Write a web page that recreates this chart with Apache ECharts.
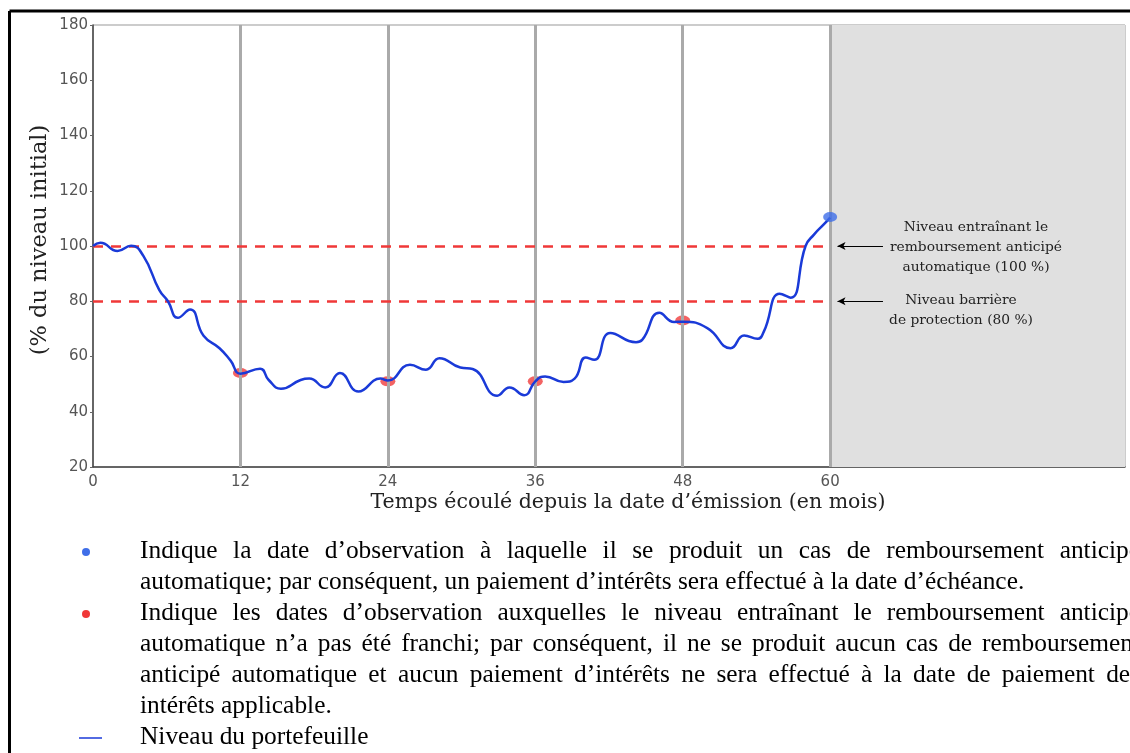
<!DOCTYPE html>
<html>
<head>
<meta charset="utf-8">
<script src="https://cdn.jsdelivr.net/npm/echarts@6/dist/echarts.min.js"></script>
<style>
    html, body { margin: 0; padding: 0; background: #fff; }
    #chart { width: 1130px; height: 753px; }
</style>
</head>
<body>
<div id="chart"></div>
<script>
// months since issue / portfolio level (% of initial)
const months = [0, 0.6, 2.0, 3.1, 4.1, 5.4, 6.1, 6.9, 7.9, 9.0, 10.3, 11.2, 12,
    13.6, 14.3, 15.3, 16.9, 17.6, 18.9, 20.1, 21.6, 23.4, 24,
    25.8, 27.1, 28.2, 29.9, 30.9, 32.9, 33.9, 35.1, 36,
    36.8, 38.3, 39.2, 40.1, 40.8, 42.1, 44.2, 44.7, 46.1, 47.3, 48,
    50.0, 51.9, 53.0, 54.1, 54.6, 55.9, 56.8, 58.0, 58.7, 59.5, 60];
const levels = [100, 101.2, 98.2, 100.1, 96.4, 84, 80, 74, 77, 67.5, 63, 58.5, 53.8,
    55.6, 51.5, 48.3, 51.5, 52, 48.8, 54, 47.3, 52, 51.3,
    57, 55.2, 59.4, 56, 55.5, 45.8, 48.8, 46, 51,
    52.8, 50.8, 52, 59.6, 58.8, 68.5, 65.2, 66, 75.8, 72.5, 72.6,
    70.3, 63, 67.6, 66.4, 69, 82.7, 81.3, 100, 104.2, 107.9, 110.3];

// observation dates
const obsMissed = [12, 24, 36, 48];
const obsMissedLevels = [54, 51, 51, 73];
const obsCalled = [60];
const obsCalledLevels = [110.5];

const autocallLevel = 100;
const barrierLevel = 80;
const maturity = 60;
const axisEnd = 84;

const legendBlue = [
    "Indique la date d’observation à laquelle il se produit un cas de remboursement anticipé",
    "automatique; par conséquent, un paiement d’intérêts sera effectué à la date d’échéance."
];
const legendRed = [
    "Indique les dates d’observation auxquelles le niveau entraînant le remboursement anticipé",
    "automatique n’a pas été franchi; par conséquent, il ne se produit aucun cas de remboursement",
    "anticipé automatique et aucun paiement d’intérêts ne sera effectué à la date de paiement des",
    "intérêts applicable."
];
const legendLine = "Niveau du portefeuille";

const serif = '"Liberation Serif", "Times New Roman", serif';
const legendFont = '25.4px ' + serif;

const measureCtx = document.createElement('canvas').getContext('2d');

/**
 * Builds word-by-word text elements so a line fills the given width
 */
function justified(text, x, y, width, justify) {
    if (!justify) {
        return [{ type: 'text', x: x, y: y, style: { text: text, font: legendFont, fill: '#000', textVerticalAlign: 'middle' } }];
    }
    measureCtx.font = legendFont;
    const words = text.split(' ');
    const widths = words.map(w => measureCtx.measureText(w).width);
    const total = widths.reduce((a, b) => a + b, 0);
    const gap = (width - total) / (words.length - 1);
    const out = [];
    let cx = x;
    words.forEach((w, i) => {
        out.push({ type: 'text', x: cx, y: y, style: { text: w, font: legendFont, fill: '#000', textVerticalAlign: 'middle' } });
        cx += widths[i] + gap;
    });
    return out;
}

const textX = 140;
const justifyWidth = 1000;
const rowsBlue = [551, 582];
const rowsRed = [613, 644, 675, 706];
const rowLine = 737;

let legendItems = [];
legendBlue.forEach((t, i) => {
    legendItems = legendItems.concat(justified(t, textX, rowsBlue[i], justifyWidth, i < legendBlue.length - 1));
});
legendRed.forEach((t, i) => {
    legendItems = legendItems.concat(justified(t, textX, rowsRed[i], justifyWidth, i < legendRed.length - 1));
});
legendItems.push({ type: 'text', x: textX, y: rowLine, style: { text: legendLine, font: legendFont, fill: '#000', textVerticalAlign: 'middle' } });

const noteFont = '13.8px "DejaVu Serif", serif';
const note = (text, x, y) => ({
    type: 'text', x: x, y: y, z: 100,
    style: { text: text, font: noteFont, fill: '#222', textAlign: 'center', textVerticalAlign: 'middle' }
});

const chart = echarts.init(document.getElementById('chart'));
chart.setOption({
    animation: false,
    grid: {
        left: 93,
        top: 25,
        right: 5,
        bottom: 286,
        show: true,
        borderColor: '#999',
        borderWidth: 1
    },
    xAxis: {
        type: 'value',
        min: 0,
        max: axisEnd,
        interval: 12,
        axisLine: { lineStyle: { color: '#444', width: 1.5 } },
        axisTick: { show: false },
        splitLine: { show: false },
        axisLabel: {
            color: '#555',
            fontSize: 15,
            fontFamily: 'DejaVu Sans',
            margin: 8,
            formatter: v => (v <= maturity ? String(v) : '')
        }
    },
    yAxis: {
        type: 'value',
        min: 20,
        max: 180,
        interval: 20,
        axisLine: { show: true, lineStyle: { color: '#444', width: 1.5 } },
        axisTick: { show: true, length: 3, lineStyle: { color: '#666' } },
        splitLine: { show: false },
        axisLabel: {
            color: '#555',
            fontSize: 15,
            fontFamily: 'DejaVu Sans',
            margin: 5
        }
    },
    series: [
        {
            name: 'Niveau du portefeuille',
            type: 'line',
            data: months.map((m, i) => [m, levels[i]]),
            smooth: 0.5,
            showSymbol: false,
            z: 5,
            lineStyle: { color: '#1a3ad8', width: 2.5 },
            markArea: {
                silent: true,
                itemStyle: { color: '#e0e0e0' },
                data: [[{ xAxis: maturity }, { xAxis: axisEnd }]]
            },
            markLine: {
                silent: true,
                symbol: 'none',
                label: { show: false },
                data: [
                    ...[12, 24, 36, 48, 60].map(v => ({ xAxis: v, lineStyle: { color: '#aaa', width: 3, type: 'solid' } })),
                    [{ coord: [0, autocallLevel] }, { coord: [maturity, autocallLevel] }],
                    [{ coord: [0, barrierLevel] }, { coord: [maturity, barrierLevel] }]
                ],
                lineStyle: { color: '#f03838', width: 2.5, type: [10, 8] }
            }
        },
        {
            name: 'arrows',
            type: 'line',
            data: [],
            markLine: {
                silent: true,
                symbol: ['none', 'arrow'],
                symbolSize: [6, 8],
                label: { show: false },
                lineStyle: { color: '#000', width: 1, type: 'solid' },
                data: [
                    [{ coord: [64.3, autocallLevel] }, { coord: [60.6, autocallLevel] }],
                    [{ coord: [64.3, barrierLevel] }, { coord: [60.6, barrierLevel] }]
                ]
            }
        },
        {
            name: 'Observations',
            type: 'scatter',
            data: obsMissed.map((m, i) => [m, obsMissedLevels[i]]),
            symbol: 'circle',
            symbolSize: [15, 10],
            z: 4,
            itemStyle: { color: '#f03c3c' }
        },
        {
            name: 'Remboursement',
            type: 'scatter',
            data: obsCalled.map((m, i) => [m, obsCalledLevels[i]]),
            symbol: 'circle',
            symbolSize: [14, 10],
            z: 6,
            itemStyle: { color: '#3f6ee8' }
        }
    ],
    graphic: [
        { type: 'line', z: 100, shape: { x1: 9.5, y1: 11, x2: 1130, y2: 11 }, style: { stroke: '#000', lineWidth: 3 } },
        { type: 'line', z: 100, shape: { x1: 9.5, y1: 11, x2: 9.5, y2: 753 }, style: { stroke: '#000', lineWidth: 3 } },
        {
            type: 'text', x: 628, y: 503, z: 100,
            style: { text: 'Temps écoulé depuis la date d’émission (en mois)', font: '20.5px "DejaVu Serif", serif', fill: '#222', textAlign: 'center', textVerticalAlign: 'middle' }
        },
        {
            type: 'text', x: 40, y: 240, z: 100, rotation: Math.PI / 2,
            style: { text: '(% du niveau initial)', font: '22.5px "DejaVu Serif", serif', fill: '#222', textAlign: 'center', textVerticalAlign: 'middle' }
        },
        note('Niveau entraînant le', 976, 227),
        note('remboursement anticipé', 976, 247),
        note('automatique (100 %)', 976, 267),
        note('Niveau barrière', 961, 300),
        note('de protection (80 %)', 961, 320),
        { type: 'circle', z: 100, shape: { cx: 86, cy: rowsBlue[0] + 1, r: 4 }, style: { fill: '#3f6ee8' } },
        { type: 'circle', z: 100, shape: { cx: 86, cy: rowsRed[0] + 1, r: 4 }, style: { fill: '#f03838' } },
        { type: 'line', z: 100, shape: { x1: 79, y1: rowLine + 1, x2: 102, y2: rowLine + 1 }, style: { stroke: '#1a3ad8', lineWidth: 1.5 } },
        ...legendItems
    ]
});
</script>
</body>
</html>
